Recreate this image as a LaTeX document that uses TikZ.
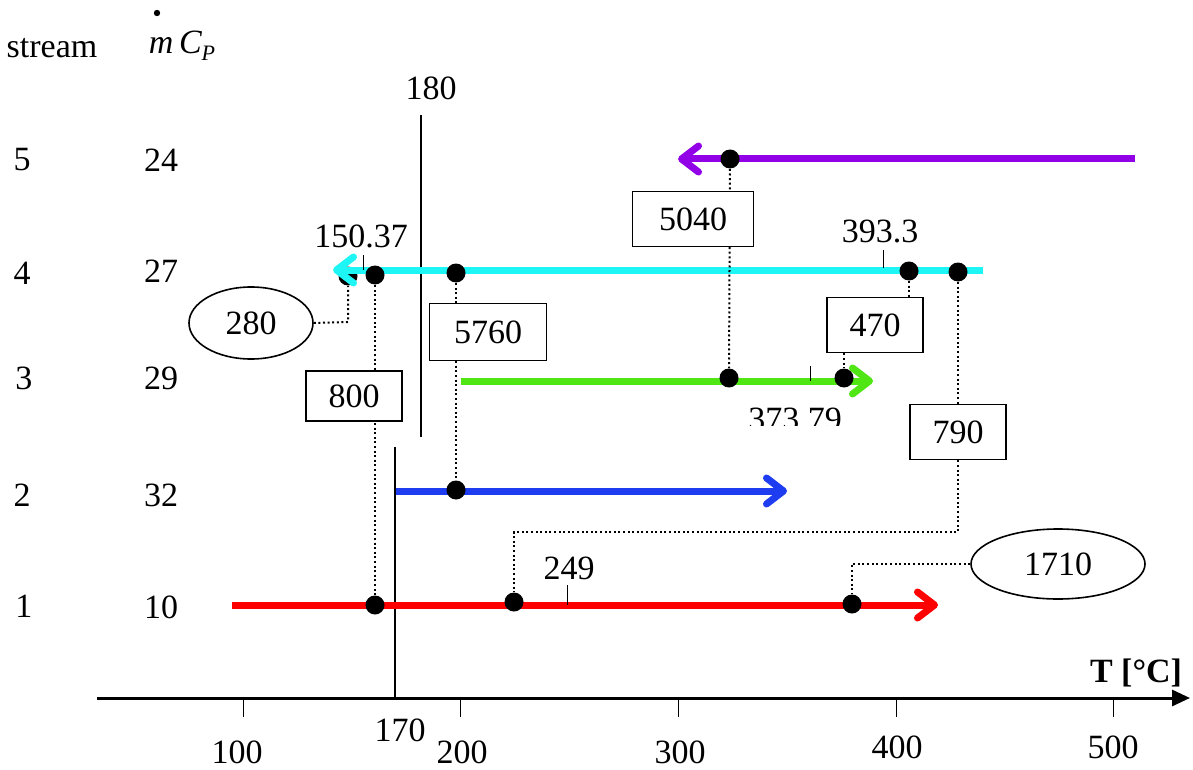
\documentclass[tikz,border=0pt]{standalone}
\usepackage{fontspec}
\setmainfont{Liberation Serif}
\usetikzlibrary{arrows.meta,shapes.geometric}
\definecolor{sred}{RGB}{255,0,0}
\definecolor{sblue}{RGB}{30,60,240}
\definecolor{sgreen}{RGB}{80,230,20}
\definecolor{scyan}{RGB}{30,245,245}
\definecolor{spurple}{RGB}{145,0,230}
\begin{document}
\begin{tikzpicture}[x=0.5pt,y=-0.5pt,
  lbl/.style={font=\fontsize{17}{20}\selectfont, inner sep=1pt},
  valbox/.style={draw, line width=0.8pt, fill=white, font=\fontsize{17}{20}\selectfont, inner sep=0pt},
  valell/.style={ellipse, draw, line width=0.8pt, fill=white, font=\fontsize{17}{20}\selectfont, inner sep=0pt},
  hx/.style={circle, fill=black, inner sep=0pt, minimum size=9.5pt},
  streamline/.style={line width=3.5pt, -{Straight Barb[length=8.5pt,width=13pt,line cap=round,round]}},
  link/.style={line width=1pt, dash pattern=on 1pt off 1.3pt},
  thin/.style={line width=0.5pt},
  vline/.style={line width=1pt}
]
\useasboundingbox (0,0) rectangle (1193,770);

% headers
\node[lbl] (hstream) at (52,48) {stream};
\node[lbl] (hmcp) at (182,46) {\itshape m\,C\raisebox{-0.45ex}{\fontsize{11}{12}\selectfont P}};
\node[circle, fill=black, inner sep=0pt, minimum size=3.2pt] (mdot) at (157,13) {};

% stream numbers and mCp
\node[lbl] (n5) at (22,160) {5};
\node[lbl] (n4) at (22,273) {4};
\node[lbl] (n3) at (24,378) {3};
\node[lbl] (n2) at (22,495) {2};
\node[lbl] (n1) at (24,606) {1};
\node[lbl] (m5) at (161,160) {24};
\node[lbl] (m4) at (161,271) {27};
\node[lbl] (m3) at (161,378) {29};
\node[lbl] (m2) at (161,495) {32};
\node[lbl] (m1) at (161,607) {10};

% axis
\coordinate (ax0) at (97,698);
\coordinate (ax1) at (1190,698);
\draw[line width=1.5pt, -{Triangle[length=9pt,width=8pt]}] (ax0) -- (ax1);
\node[lbl, font=\fontsize{17}{20}\selectfont\bfseries] (tlabel) at (1136,673) {T [°C]};
\foreach \xx/\nm in {243/t100,460/t200,678/t300,896/t400,1113/t500}{
  \coordinate (\nm a) at (\xx,698);
  \coordinate (\nm b) at (\xx,717);
  \draw[thin] (\nm a) -- (\nm b);
}
\node[lbl] (l100) at (237,752) {100};
\node[lbl] (l170) at (400,730) {170};
\node[lbl] (l200) at (462,752) {200};
\node[lbl] (l300) at (680,752) {300};
\node[lbl] (l400) at (897,747) {400};
\node[lbl] (l500) at (1113,747) {500};

% pinch lines
\coordinate (p180a) at (421,115);
\coordinate (p180b) at (421,437);
\draw[vline] (p180a) -- (p180b);
\node[lbl] (l180) at (431,88) {180};
\coordinate (p170a) at (395,447);
\coordinate (p170b) at (395,698);
\draw[vline] (p170a) -- (p170b);

% stream coordinates
\coordinate (s5a) at (1135,159); \coordinate (s5b) at (678,159);
\coordinate (s4a) at (983,270);  \coordinate (s4b) at (333,270);
\coordinate (s3a) at (461,381);  \coordinate (s3b) at (873,381);
\coordinate (s2a) at (396,491);  \coordinate (s2b) at (787,491);
\coordinate (s1a) at (232,605);  \coordinate (s1b) at (938,605);

% dot partly hidden under the cyan arrow head
\node[hx] (d4x) at (348,276) {};

% ticks with values
\coordinate (k4a) at (363,255); \coordinate (k4b) at (363,270);
\coordinate (k4c) at (883,250); \coordinate (k4d) at (883,268);
\coordinate (k3a) at (810,366); \coordinate (k3b) at (810,381);
\coordinate (k1a) at (567,585); \coordinate (k1b) at (567,605);

% streams
\draw[streamline, spurple] (s5a) -- (s5b);
\draw[streamline, scyan] (s4a) -- (s4b);
\draw[streamline, sgreen] (s3a) -- (s3b);
\draw[streamline, sblue] (s2a) -- (s2b);
\draw[streamline, sred] (s1a) -- (s1b);

\draw[thin] (k4a) -- (k4b);
\draw[thin] (k4c) -- (k4d);
\draw[thin] (k3a) -- (k3b);
\draw[thin] (k1a) -- (k1b);
\node[lbl] (v15037) at (361,236) {150.37};
\node[lbl] (v3933) at (880,231) {393.3};
\node[lbl] (v249) at (569,568) {249};
\begin{scope}
  \clip (700,395) rectangle (900,425);
  \node[lbl] (v37379) at (795,419) {373.79};
\end{scope}

% exchanger dots
\node[hx] (d5) at (730,159) {};
\node[hx] (d4a) at (375,275) {};
\node[hx] (d4b) at (456,273) {};
\node[hx] (d4c) at (909,271) {};
\node[hx] (d4d) at (958,272) {};
\node[hx] (d3a) at (729,378) {};
\node[hx] (d3b) at (844,378) {};
\node[hx] (d2) at (456,490) {};
\node[hx] (d1a) at (375,605) {};
\node[hx] (d1b) at (514,602) {};
\node[hx] (d1c) at (852,604) {};

% dotted links
\draw[link] (d5) -- (d3a);
\draw[link] (d4b) -- (d2);
\draw[link] (d4a) -- (d1a);
\coordinate (c790) at (958,532);
\coordinate (c514) at (514,532);
\coordinate (c1710) at (852,564);
\coordinate (c280) at (348,322);

% duty boxes
\node[valbox, minimum width=60.5pt, minimum height=27.5pt] (b5040) at (693,219) {5040};
\node[valbox, minimum width=58.5pt, minimum height=28.5pt] (b5760) at (488,332) {5760};
\node[valbox, minimum width=48pt, minimum height=25pt] (b800) at (354,396) {800};
\node[valbox, minimum width=48pt, minimum height=27.5pt] (b470) at (875,325) {470};
\node[valbox, minimum width=48pt, minimum height=27.5pt] (b790) at (958,432) {790};
\node[valell, minimum width=62pt, minimum height=36pt] (e280) at (251,323) {280};
\node[valell, minimum width=87pt, minimum height=35pt] (e1710) at (1058,564) {1710};

\draw[link] (d4c) -- (d4c |- b470.north);
\draw[link] (d3b |- b470.south) -- (d3b);
\draw[link] (d4d) -- (b790.north);
\draw[link] (b790.south) -- (c790) -- (c514) -- (d1b);
\draw[link] (e1710.west) -- (c1710) -- (d1c);
\draw[link] (e280.east) -- (c280) -- (d4x);
\end{tikzpicture}
\end{document}
